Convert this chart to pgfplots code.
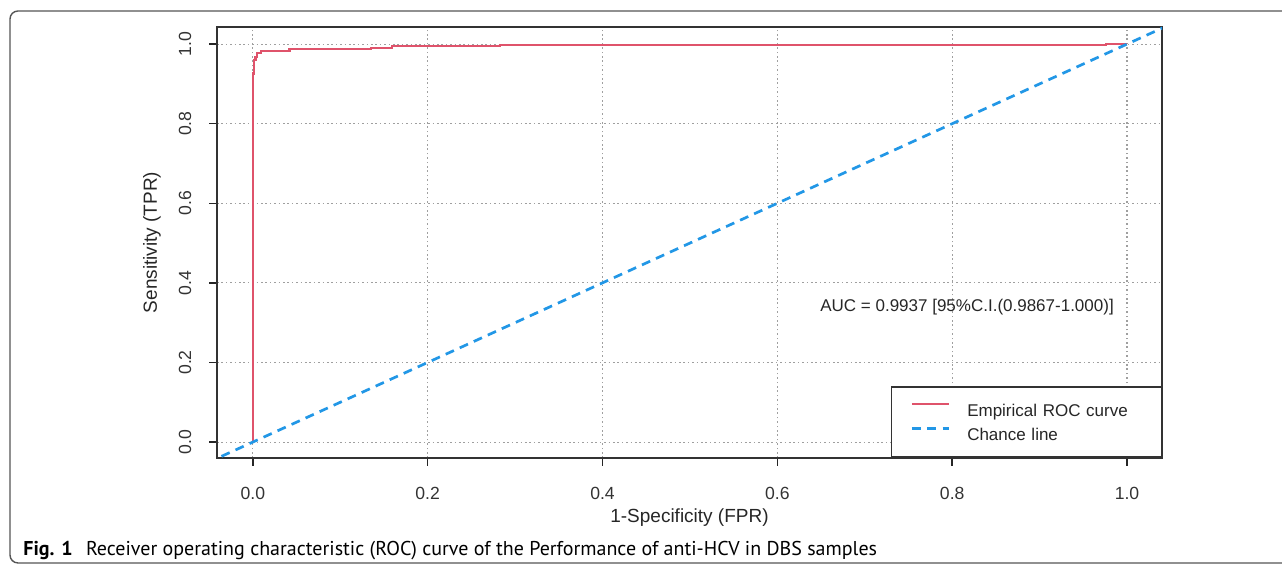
\documentclass[border=0pt]{standalone}
\usepackage{fontspec}
\setmainfont{Liberation Sans}
\newfontfamily\capfont{PT Sans}
\usepackage{pgfplots}
\pgfplotsset{compat=1.18}

\definecolor{rocred}{HTML}{DF536B}
\definecolor{chanceblue}{HTML}{2297E6}
\definecolor{framegray}{HTML}{555555}

\begin{document}
\begin{tikzpicture}
\useasboundingbox (0,0) rectangle (641pt,282.5pt);
% figure frame (left side and top, rounded corners)
\draw[framegray, line width=0.7pt, rounded corners=4pt]
  (720pt,1pt) -- (5pt,1pt) -- (5pt,277pt) -- (720pt,277pt);

\begin{axis}[
    at={(108.5pt,53.5pt)}, anchor=south west,
    scale only axis,
    width=472.5pt, height=215.5pt,
    xmin=-0.041, xmax=1.040,
    ymin=-0.040, ymax=1.043,
    xtick={0,0.2,0.4,0.6,0.8,1.0},
    ytick={0,0.2,0.4,0.6,0.8,1.0},
    xticklabels={0.0,0.2,0.4,0.6,0.8,1.0},
    yticklabels={0.0,0.2,0.4,0.6,0.8,1.0},
    xtick pos=bottom, ytick pos=left,
    tick align=outside,
    major tick length=4pt,
    tick style={black!85, line width=0.75pt},
    axis line style={black!80, line width=0.75pt},
    grid=major,
    major grid style={gray!75, line width=0.55pt, dash pattern=on 0.8pt off 1.4pt},
    /pgf/number format/assume math mode=true,
    tick label style={font=\fontsize{8.8}{10}\selectfont, text=black!80},
    xticklabel style={anchor=center},
    yticklabel style={anchor=center, rotate=90},
    xticklabel shift=13.5pt,
    yticklabel shift=12pt,
    xlabel={1-Specificity (FPR)},
    ylabel={Sensitivity (TPR)},
    label style={font=\fontsize{9.5}{11}\selectfont, text=black!85},
    xlabel style={at={(axis description cs:0.5,-0.1392)}, anchor=center},
    ylabel style={at={(axis description cs:-0.0688,0.5)}, anchor=center},
    legend style={
        at={(1,0)}, anchor=south east,
        draw=black!80, line width=0.75pt,
        font=\fontsize{8.5}{10}\selectfont,
        inner xsep=9.5pt, inner ysep=5.5pt,
        row sep=0pt,
        /tikz/every odd column/.append style={column sep=8.5pt},
        nodes={inner sep=0pt, text height=9pt, text depth=3pt, text=black!85},
    },
    legend cell align=left,
    legend image code/.code={\draw[#1] (0pt,3pt) -- (18.5pt,3pt);},
]
\addplot[rocred, line width=1.1pt, line join=miter] coordinates {
    (0,0) (0,0.926) (0.001,0.926) (0.001,0.960) (0.003,0.960) (0.003,0.968)
    (0.005,0.968) (0.005,0.977) (0.009,0.977) (0.009,0.982) (0.042,0.982)
    (0.042,0.987) (0.135,0.987) (0.135,0.991) (0.159,0.991) (0.159,0.995)
    (0.283,0.995) (0.283,0.998) (0.976,0.998) (0.976,1.0) (1,1)
};
\addlegendentry[text width=87.5pt]{Empirical ROC curve}
\addplot[chanceblue, line width=1.35pt, dash pattern=on 4.5pt off 3.2pt] coordinates {
    (-0.1,-0.1) (1.1,1.1)
};
\addlegendentry[text width=87.5pt]{Chance line}
\node[font=\fontsize{8.5}{10}\selectfont, text=black!85, anchor=center]
  at (axis cs:0.817,0.339) {AUC = 0.9937 [95\%C.I.(0.9867-1.000)]};
\end{axis}

\node[anchor=base west, inner sep=0pt] at (11.5pt,4.5pt)
  {\capfont\fontsize{10}{12}\selectfont\textbf{Fig. 1}\hspace{4pt} Receiver operating characteristic (ROC) curve of the Performance of anti-HCV in DBS samples};
\end{tikzpicture}
\end{document}
